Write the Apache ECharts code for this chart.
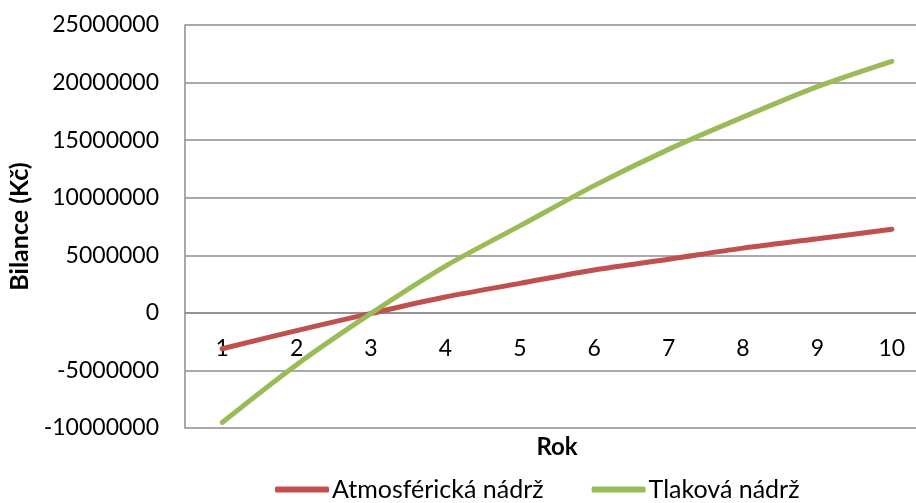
<!DOCTYPE html>
<html>
<head>
<meta charset="utf-8">
<script src="https://cdn.jsdelivr.net/npm/echarts@6/dist/echarts.min.js"></script>
<style>
  html, body { margin: 0; padding: 0; background: #fff; }
  #chart { width: 916px; height: 503px; }
</style>
</head>
<body>
<div id="chart"></div>
<script>
// Years of operation
const years = ['1', '2', '3', '4', '5', '6', '7', '8', '9', '10'];
// Cumulative balance (CZK) for each tank type
const atmosfericka = [-3120000, -1540000, -50000, 1380000, 2560000, 3730000, 4660000, 5620000, 6430000, 7270000];
const tlakova = [-9520000, -4500000, -50000, 4060000, 7550000, 11050000, 14200000, 17000000, 19650000, 21850000];
// Value axis range
const yMin = -10000000;
const yMax = 25000000;
const yStep = 5000000;

const FONT = 'Lato, "Open Sans", sans-serif';
const GRID = '#8c8c8c';
const GRID_TOP = 25;
const GRID_BOTTOM = 75;

const chart = echarts.init(document.getElementById('chart'), null, { renderer: 'canvas' });
chart.setOption({
  animation: false,
  backgroundColor: '#ffffff',
  grid: { left: 185, right: -13, top: GRID_TOP, bottom: GRID_BOTTOM, containLabel: false, outerBoundsMode: 'none' },
  xAxis: {
    type: 'category',
    data: years,
    boundaryGap: true,
    axisLine: { onZero: true, onZeroAxisIndex: 0, lineStyle: { color: GRID, width: 1.5 } },
    axisTick: { show: false },
    axisLabel: { color: '#000', fontFamily: FONT, fontSize: 23, margin: 24 },
    splitLine: { show: false }
  },
  yAxis: {
    type: 'value',
    min: yMin,
    max: yMax,
    interval: yStep,
    name: 'Bilance (Kč)',
    nameLocation: 'middle',
    nameGap: 152,
    nameRotate: 90,
    nameTextStyle: { color: '#000', fontFamily: FONT, fontSize: 25, fontWeight: 'bold' },
    axisLine: { show: true, onZero: false, lineStyle: { color: GRID, width: 1.5 } },
    axisTick: { show: false },
    axisLabel: { color: '#000', fontFamily: FONT, fontSize: 23, margin: 26, formatter: v => String(v) },
    splitLine: { show: true, lineStyle: { color: GRID, width: 1.5 } }
  },
  graphic: [{
    type: 'text',
    x: 557,
    y: 447,
    style: {
      text: 'Rok',
      fill: '#000',
      font: 'bold 24px ' + FONT,
      align: 'center',
      verticalAlign: 'middle'
    }
  }],
  legend: {
    left: 275,
    top: 477,
    padding: 0,
    itemWidth: 54,
    itemHeight: 6,
    itemGap: 48,
    icon: 'roundRect',
    textStyle: { color: '#000', fontFamily: FONT, fontSize: 25, padding: [0, 0, 0, -2] },
    data: ['Atmosférická nádrž', 'Tlaková nádrž']
  },
  series: [
    {
      name: 'Atmosférická nádrž',
      type: 'line',
      data: atmosfericka,
      smooth: 0.3,
      symbol: 'none',
      color: '#C0504D',
      lineStyle: { color: '#C0504D', width: 5, cap: 'round' }
    },
    {
      name: 'Tlaková nádrž',
      type: 'line',
      data: tlakova,
      smooth: 0.3,
      symbol: 'none',
      color: '#9BBB59',
      lineStyle: { color: '#9BBB59', width: 5, cap: 'round' }
    }
  ]
});

// Place the category axis (line and labels) on the zero value of the y axis.
const zeroY = chart.convertToPixel({ yAxisIndex: 0 }, 0);
const bottomY = chart.convertToPixel({ yAxisIndex: 0 }, yMin);
if (isFinite(zeroY) && isFinite(bottomY)) {
  chart.setOption({ xAxis: { offset: zeroY - bottomY } });
}
</script>
</body>
</html>
